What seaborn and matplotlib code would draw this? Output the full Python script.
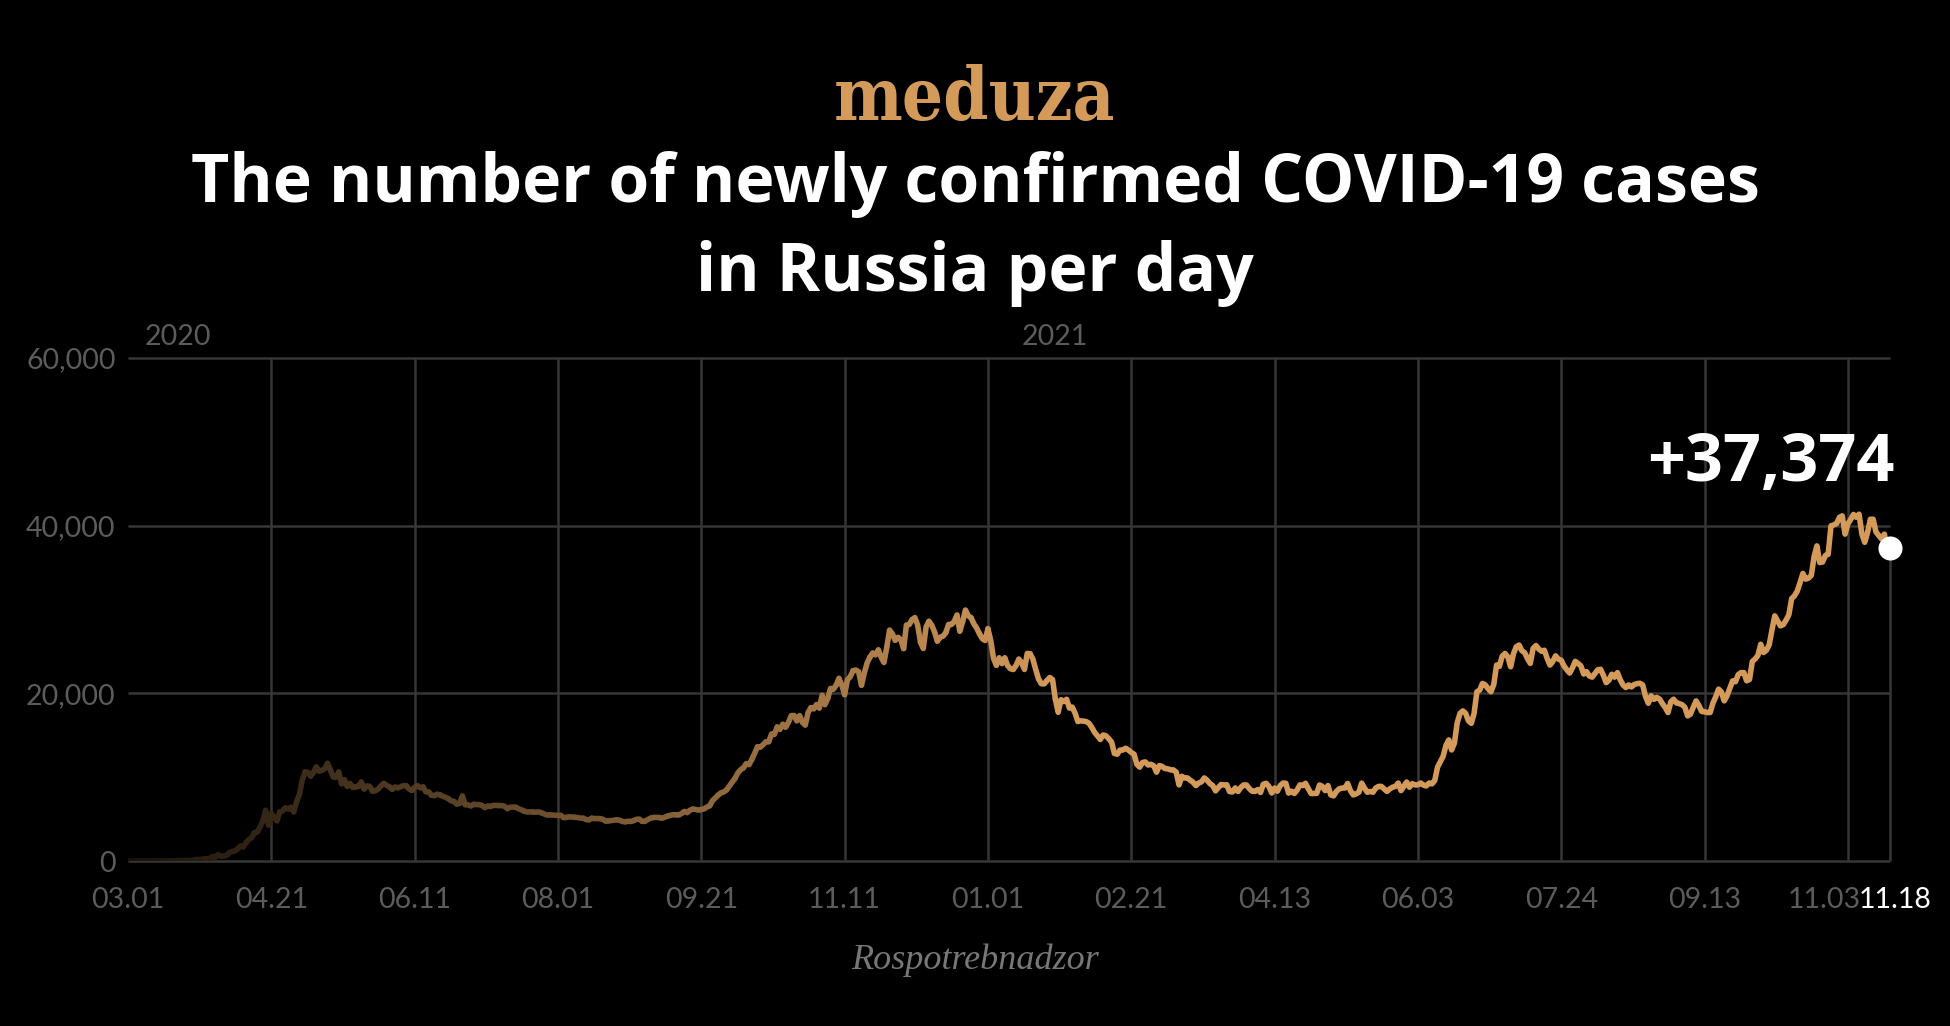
import pandas as pd
import matplotlib
matplotlib.use('Agg')
import matplotlib.pyplot as plt
from matplotlib.colors import LinearSegmentedColormap
from matplotlib.transforms import ScaledTranslation
import seaborn as sns

# -> DATA: newly confirmed COVID-19 cases in Russia per day, one list per month

mar_2020 = [0, 1, 0, 0, 1, 6, 3, 0, 3, 0, 8, 8, 17, 14, 4, 30, 21, 33, 52, 54, 53, 61, 71, 57, 163,
            182, 196, 228, 270, 302, 500]
apr_2020 = [440, 771, 601, 582, 658, 954, 1154, 1175, 1459, 1786, 1667, 2186, 2558, 2774, 3388,
            3448, 4070, 4785, 6060, 4268, 5642, 5236, 4774, 5849, 5966, 6361, 6198, 6411, 5841, 7099]
may_2020 = [7933, 9623, 10633, 10581, 10102, 10559, 11231, 10699, 10817, 11012, 11656, 10899, 10028,
            9974, 10598, 9200, 9709, 8926, 9263, 8764, 8849, 8894, 9434, 8599, 8946, 8915, 8338,
            8371, 8572, 8952, 9268]
jun_2020 = [9035, 8863, 8536, 8831, 8726, 8855, 8984, 8985, 8595, 8404, 8779, 8987, 8706, 8835, 8246,
            8248, 7843, 7790, 7972, 7889, 7728, 7600, 7425, 7176, 7113, 6800, 6852, 7760, 6719, 6693]
jul_2020 = [6556, 6760, 6718, 6736, 6611, 6368, 6562, 6509, 6635, 6632, 6615, 6611, 6537, 6248, 6422,
            6428, 6406, 6234, 6109, 5940, 5842, 5862, 5848, 5811, 5871, 5765, 5635, 5475, 5509,
            5482, 5462]
aug_2020 = [5427, 5462, 5159, 5204, 5267, 5241, 5212, 5189, 5118, 5102, 4945, 4890, 5102, 5065, 5061,
            5057, 4969, 4748, 4790, 4828, 4870, 4921, 4852, 4696, 4676, 4744, 4711, 4829, 4980,
            4993, 4729]
sep_2020 = [4729, 4952, 5110, 5195, 5205, 5185, 5099, 5218, 5363, 5449, 5529, 5509, 5488, 5670, 5905,
            5762, 6065, 6196, 6148, 6065, 6148, 6215, 6431, 6595, 7212, 7523, 7867, 8135, 8232, 8481]
oct_2020 = [8945, 9412, 9859, 10499, 10888, 11115, 11615, 11493, 12126, 12846, 13634, 13592, 13868,
            14231, 14231, 15150, 15099, 15982, 15700, 16319, 15971, 16521, 17340, 17347, 16710,
            17347, 16550, 16202, 17717, 18283, 18140]
nov_2020 = [18665, 18257, 19768, 18648, 19404, 20582, 20498, 20977, 21798, 20977, 19851, 21608, 21983,
            22702, 22778, 22572, 20977, 22410, 23610, 24318, 24822, 24581, 25173, 24326, 23675,
            25487, 27543, 27100, 26338, 26683]
dec_2020 = [26402, 25345, 28145, 28209, 28782, 29039, 28137, 26097, 25345, 27927, 28585, 28137, 27328,
            26236, 26689, 26807, 27227, 28214, 28209, 28552, 29350, 27400, 28552, 29935, 29258,
            29018, 28284, 27787, 27100, 26513, 26300]
jan_2021 = [27700, 26301, 24150, 23351, 24246, 23541, 24217, 23309, 22934, 22851, 23315, 24092, 23652,
            22850, 24763, 24715, 24092, 22857, 21734, 21152, 21127, 21513, 21887, 21638, 19290,
            17741, 19238, 19032, 19290, 18241, 18359]
feb_2021 = [17648, 16643, 16714, 16688, 16627, 16419, 15916, 15321, 14928, 14494, 15031, 14936, 14585,
            14185, 12828, 12742, 13233, 13233, 13447, 13233, 12953, 12742, 11534, 11198, 11749,
            11823, 11449, 11534]
mar_2021 = [11359, 10595, 11385, 11279, 11024, 10998, 10869, 10869, 10595, 9079, 10103, 9908, 9904,
            9632, 9393, 8998, 9299, 9445, 9908, 9632, 9232, 8995, 8369, 8769, 9128, 9073, 9088,
            8277, 8233, 8711, 8291]
apr_2021 = [8771, 9073, 9068, 8646, 8328, 8294, 8525, 8173, 9161, 9270, 8885, 8110, 8702, 8328, 8995,
            9290, 9270, 8100, 8328, 8053, 8457, 9073, 8999, 9270, 8632, 8046, 8053, 8070, 9070, 8900]
may_2021 = [8400, 9000, 7880, 7770, 8300, 8600, 8700, 8700, 9250, 8400, 7885, 8000, 8200, 9290, 8700,
            8200, 8300, 8200, 8700, 8900, 8900, 8600, 8300, 8600, 8800, 8900, 9300, 8400, 8900,
            9420, 8800]
jun_2021 = [9220, 9080, 9080, 9300, 9050, 8950, 9300, 9200, 9600, 11200, 11860, 12500, 13800, 14440,
            13250, 14057, 16500, 17610, 17906, 17611, 16715, 16420, 17594, 20190, 20393, 21180,
            21000, 20538, 20190, 21042]
jul_2021 = [23370, 23218, 24439, 24760, 24353, 23170, 24702, 25550, 25766, 25082, 24850, 24150, 23570,
            25360, 25704, 25293, 25018, 25142, 24166, 23370, 23811, 24471, 24072, 23947, 23270,
            22804, 22420, 23032, 23811, 23564, 23270]
aug_2021 = [22300, 22589, 22070, 21932, 22375, 22804, 22870, 22160, 21280, 21571, 22277, 21932, 22470,
            21624, 21000, 20690, 21000, 20765, 21058, 21155, 21200, 20992, 19630, 18820, 19700,
            19286, 19509, 19320, 18780, 18325, 17710]
sep_2021 = [18985, 19300, 18856, 18780, 18645, 18341, 17310, 17525, 18341, 19100, 18554, 17837, 17800,
            17710, 17710, 18841, 19594, 20500, 20174, 19100, 19700, 20616, 21490, 21379, 22236,
            22470, 22470, 21490, 21650, 23800]
oct_2021 = [24100, 24522, 25860, 24870, 25133, 25781, 27550, 29240, 28647, 28050, 28190, 28717, 29362,
            31299, 31630, 32196, 33208, 34303, 33620, 33740, 34073, 36339, 37590, 35600, 35660,
            36446, 36582, 39980, 40096, 40251, 40993]
nov_2021 = [41170, 38990, 40217, 40735, 41335, 41000, 41370, 38990, 38010, 39160, 40759, 40770, 39256,
            38823, 38420, 38990, 36970, 37374]

START_DATE = '2020-03-01'
TICK_DATES = ['2020-03-01', '2020-04-21', '2020-06-11', '2020-08-01', '2020-09-21', '2020-11-11',
              '2021-01-01', '2021-02-21', '2021-04-13', '2021-06-03', '2021-07-24', '2021-09-13',
              '2021-11-03', '2021-11-18']
TICK_LABELS = ['03.01', '04.21', '06.11', '08.01', '09.21', '11.11', '01.01', '02.21', '04.13',
               '06.03', '07.24', '09.13', '11.03', '11.18']
Y_TICKS = [0, 20000, 40000, 60000]
Y_LABELS = ['0', '20,000', '40,000', '60,000']
YEARS = ['2020', '2021']
YEAR_DATES = ['2020-03-07', '2021-01-13']

months = [mar_2020, apr_2020, may_2020, jun_2020, jul_2020, aug_2020, sep_2020, oct_2020, nov_2020,
          dec_2020, jan_2021, feb_2021, mar_2021, apr_2021, may_2021, jun_2021, jul_2021, aug_2021,
          sep_2021, oct_2021, nov_2021]
cases = [v for m in months for v in m]
dates = pd.date_range(START_DATE, periods=len(cases), freq='D')

# split the line into short pieces so the colour can fade in from the left
SEG = 3
rows = []
for s in range(0, len(cases) - 1, SEG):
    t = min(1.0, 0.12 + 0.88 * s / 330)
    for i in range(s, min(s + SEG, len(cases) - 1) + 1):
        rows.append({'date': dates[i], 'cases': cases[i], 'fade': t})
df = pd.DataFrame(rows)

# -> STYLE
BG = '#000000'
GRID = '#363636'
MUTED = '#5c5c5c'
TAN = '#d39a5a'
HEAD = ['Open Sans', 'Lato', 'DejaVu Sans']

sns.set_theme(style='dark', rc={'figure.facecolor': BG, 'axes.facecolor': BG, 'savefig.facecolor': BG})
plt.rcParams['font.family'] = ['Lato', 'DejaVu Sans']

fig = plt.figure(figsize=(19.5, 10.26), dpi=100)
ax = fig.add_axes([128 / 1950, 165 / 1026, (1890 - 128) / 1950, (861 - 358) / 1026])

x0 = pd.Timestamp(TICK_DATES[0])
x1 = pd.Timestamp(TICK_DATES[-1])

# grid
ax.hlines(Y_TICKS, x0, x1, color=GRID, lw=1.8, clip_on=False, zorder=1)
ax.vlines(pd.to_datetime(TICK_DATES[1:-1]), 0, 60000, color=GRID, lw=1.8, clip_on=False, zorder=1)
ax.vlines(x1, 0, cases[-1], color=GRID, lw=1.8, clip_on=False, zorder=1)

fade = LinearSegmentedColormap.from_list('fade', ['#000000', TAN])
sns.lineplot(data=df, x='date', y='cases', hue='fade', palette=fade, hue_norm=(0, 1),
             estimator=None, sort=False, legend=False, lw=4.0, ax=ax,
             solid_capstyle='round', solid_joinstyle='round', zorder=3)

sns.scatterplot(x=[dates[-1]], y=[cases[-1]], color='white', s=300, linewidth=0, ax=ax,
                zorder=5, clip_on=False)
ax.annotate(f'+{cases[-1]:,}', xy=(dates[-1], cases[-1]), xytext=(4, 84), textcoords='offset pixels',
            ha='right', va='center', color='white', fontsize=48, fontweight='bold', family=HEAD)

ax.set_xlim(x0, x1)
ax.set_ylim(0, 60000)
for sp in ax.spines.values():
    sp.set_visible(False)
ax.grid(False)

ax.set_yticks(Y_TICKS)
ax.set_yticklabels(Y_LABELS)
ax.set_xticks(pd.to_datetime(TICK_DATES))
ax.set_xticklabels(TICK_LABELS)
ax.tick_params(axis='y', length=0, pad=9, labelsize=20.5, labelcolor=MUTED)
ax.tick_params(axis='x', length=0, pad=19, labelsize=20.5, labelcolor=MUTED)
ax.set_xlabel('')
ax.set_ylabel('')

# the last two date labels sit close together: nudge them apart like the original
xlabels = ax.get_xticklabels()
xlabels[-1].set_color('white')
xlabels[-2].set_transform(xlabels[-2].get_transform() + ScaledTranslation(-0.24, 0, fig.dpi_scale_trans))
xlabels[-1].set_transform(xlabels[-1].get_transform() + ScaledTranslation(0.05, 0, fig.dpi_scale_trans))

for yr, d in zip(YEARS, YEAR_DATES):
    ax.text(pd.Timestamp(d), 1.041, yr, transform=ax.get_xaxis_transform(), ha='left', va='center',
            fontsize=20.5, color=MUTED)

# -> HEADER & SOURCE
fig.text(0.5, 0.903, 'meduza', ha='center', va='center', color=TAN, fontsize=52,
         fontweight='bold', family='DejaVu Serif', fontstretch='condensed')
fig.text(0.5, 0.8197, 'The number of newly confirmed COVID-19 cases', ha='center', va='center',
         color='white', fontsize=47.5, fontweight='bold', family=HEAD)
fig.text(0.5, 0.733, 'in Russia per day', ha='center', va='center',
         color='white', fontsize=47.5, fontweight='bold', family=HEAD)
fig.text(0.5, 0.0643, 'Rospotrebnadzor', ha='center', va='center', color='#777777',
         fontsize=26, style='italic', family='Liberation Serif')

fig.savefig('out.png', dpi=100, facecolor=BG)
